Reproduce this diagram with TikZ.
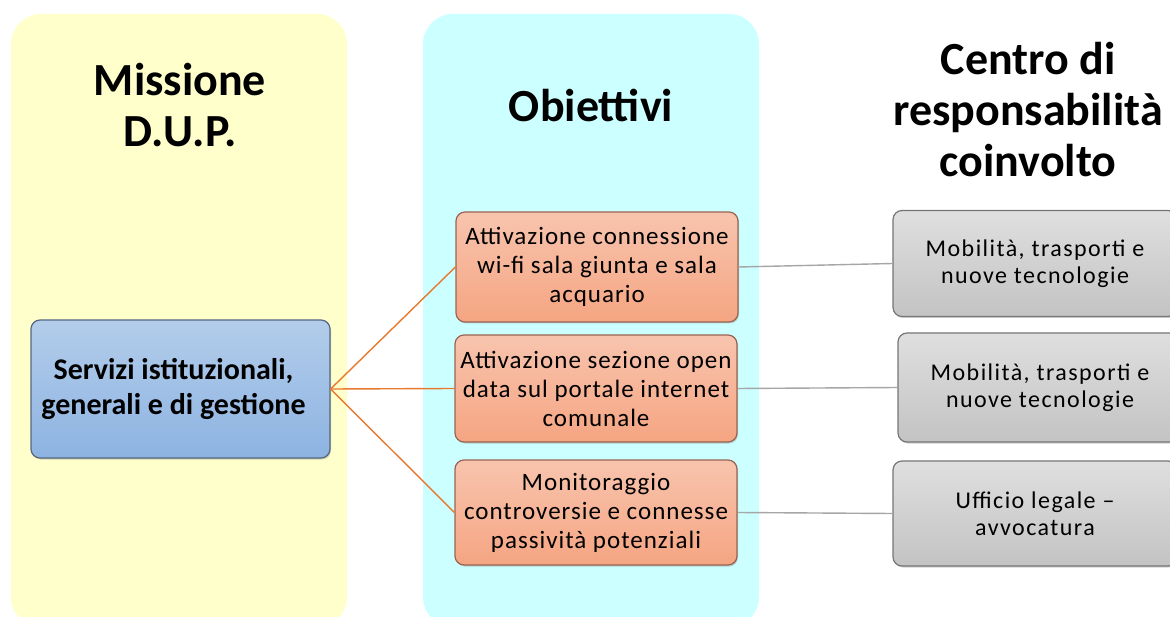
\documentclass[tikz,border=0pt]{standalone}
\usepackage{fontspec}
\setmainfont{Carlito}
\newfontfamily\obfont[LetterSpace=4]{Carlito}
\newfontfamily\cdrfont[LetterSpace=6]{Carlito}
\usetikzlibrary{shadows}

\definecolor{panelgiallo}{HTML}{FFFFCC}
\definecolor{panelciano}{HTML}{CCFFFF}
\definecolor{bluetop}{HTML}{B3CDEA}
\definecolor{bluebot}{HTML}{8DB3E2}
\definecolor{blueedge}{HTML}{56677F}
\definecolor{aranciotop}{HTML}{F8C4AE}
\definecolor{aranciobot}{HTML}{F5A582}
\definecolor{arancioedge}{HTML}{9A6452}
\definecolor{grigiotop}{HTML}{DFDFDF}
\definecolor{grigiobot}{HTML}{C3C3C3}
\definecolor{grigioedge}{HTML}{767676}
\definecolor{lineaarancio}{HTML}{E8792F}
\definecolor{lineagrigia}{HTML}{A6A6A6}

\tikzset{
  titolo/.style={font=\bfseries\fontsize{46}{51}\selectfont, align=center, inner sep=0pt},
  box/.style={rounded corners=9pt, line width=1.2pt, align=center, inner sep=0pt,
    drop shadow={shadow xshift=1pt, shadow yshift=-1.5pt, opacity=.35}},
  missbox/.style={box, draw=blueedge, top color=bluetop, bottom color=bluebot,
    minimum width=299pt, minimum height=138pt, font=\bfseries\fontsize{30}{35}\selectfont},
  obbox/.style={box, draw=arancioedge, top color=aranciotop, bottom color=aranciobot,
    minimum width=282pt, font=\obfont\fontsize{25}{29}\selectfont},
  cdrbox/.style={box, draw=grigioedge, top color=grigiotop, bottom color=grigiobot,
    minimum width=284pt, font=\cdrfont\fontsize{24}{27}\selectfont},
  link/.style={draw=lineaarancio, line width=1.4pt},
  cdrlink/.style={draw=lineagrigia, line width=1.4pt}
}

\begin{document}
\begin{tikzpicture}[x=1pt, y=-1pt]
  \clip (0,0) rectangle (1170,617);
  \fill[white] (0,0) rectangle (1170,617);

  % colonne
  \fill[panelgiallo, rounded corners=30pt] (11,14) rectangle (347,627);
  \fill[panelciano, rounded corners=30pt] (423,14) rectangle (759,627);

  % titoli
  \node[titolo] (tmiss) at (180,105) {Missione\\D.U.P.};
  \node[titolo] (tob) at (591,106) {Obiettivi};
  \node[titolo] (tcdr) at (1028,110) {Centro di\\responsabilità\\coinvolto};

  % nodi
  \node[missbox] (miss) at (180.5,389) {Servizi istituzionali,\hspace*{14pt}\\generali e di gestione\hspace*{14pt}};

  \node[obbox, minimum height=110pt] (ob1) at (597,267) {Attivazione connessione\\wi-fi sala giunta e sala\\acquario};
  \node[obbox, minimum height=107pt] (ob2) at (596,388.5) {Attivazione sezione open\\data sul portale internet\\comunale};
  \node[obbox, minimum height=105pt] (ob3) at (596,512.5) {Monitoraggio\\controversie e connesse\\passività potenziali};

  \node[cdrbox, minimum height=106pt] (cdr1) at (1035,263.5) {Mobilità, trasporti e\\nuove tecnologie};
  \node[cdrbox, minimum height=109pt] (cdr2) at (1040,387.5) {Mobilità, trasporti e\\nuove tecnologie};
  \node[cdrbox, minimum height=105pt] (cdr3) at (1035,513.5) {Ufficio legale –\\avvocatura};

  % collegamenti
  \foreach \i in {1,2,3} {
    \draw[link] (miss.east) -- (ob\i.west);
    \draw[cdrlink] (ob\i.east) -- (cdr\i.west);
  }
\end{tikzpicture}
\end{document}
